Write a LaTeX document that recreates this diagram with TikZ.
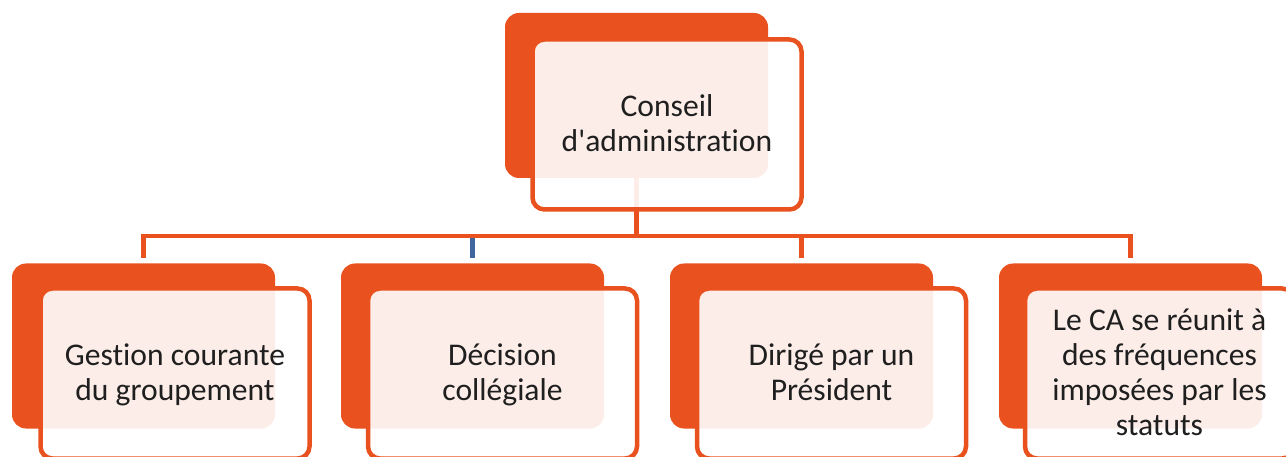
\documentclass[tikz,border=0pt]{standalone}
\usepackage{fontspec}
\setmainfont{Carlito}[Ligatures={NoCommon}]
\definecolor{orng}{RGB}{233,81,30}
\definecolor{tickblue}{RGB}{63,103,158}
\newcommand{\topstrut}{\rule{0pt}{28pt}}
\newcommand{\botstrut}{\rule[-9pt]{0pt}{9pt}}
\begin{document}
\begin{tikzpicture}[x=1pt,y=-1pt,
  backbox/.style={rectangle, rounded corners=14pt, fill=orng, minimum width=263pt, minimum height=165pt, inner sep=0pt, outer sep=0pt, anchor=north west},
  frontbox/.style={rectangle, rounded corners=12pt, draw=orng, line width=4.5pt, fill=white, fill opacity=0.9, draw opacity=1, text opacity=1, minimum width=269pt, minimum height=170pt, inner sep=0pt, outer sep=0pt, anchor=north west, align=center, font=\fontsize{31.6}{35}\selectfont, text=black!88},
  conn/.style={draw=orng, line width=4.5pt}]
\useasboundingbox (0,0) rectangle (1286,457);
% back boxes
\node[backbox] (b0) at (505,13) {};
\node[backbox] (b1) at (12,263.5) {};
\node[backbox] (b2) at (341,263.5) {};
\node[backbox] (b3) at (670,263.5) {};
\node[backbox] (b4) at (999,263.5) {};
% connectors
\coordinate (hub) at (636.5,236);
\coordinate (d1) at ([yshift=5.5pt]b1.north);
\coordinate (d2) at ([yshift=5.5pt]b2.north);
\coordinate (d3) at ([yshift=5.5pt]b3.north);
\coordinate (d4) at ([yshift=5.5pt]b4.north);
\draw[conn, draw=tickblue] (d2 |- hub) -- (d2);
\draw[conn] (b0.south) -- (hub);
\draw[conn] (hub) -| (d1);
\draw[conn] (hub) -| (d4);
\draw[conn] (d3 |- hub) -- (d3);
% front boxes with text
\node[frontbox] (f0) at (532.5,39.5) {\topstrut Conseil\\d\textquotesingle administration\botstrut};
\node[frontbox] (f1) at (40.5,288.5) {\topstrut Gestion courante\\du groupement\botstrut};
\node[frontbox] (f2) at (368,288.5) {\topstrut Décision\\collégiale\botstrut};
\node[frontbox] (f3) at (697,288.5) {\topstrut Dirigé par un\\Président\botstrut};
\node[frontbox] (f4) at (1025,288.5) {\topstrut Le CA se réunit à\\des fréquences\\imposées par les\\statuts\botstrut};
\end{tikzpicture}
\end{document}
